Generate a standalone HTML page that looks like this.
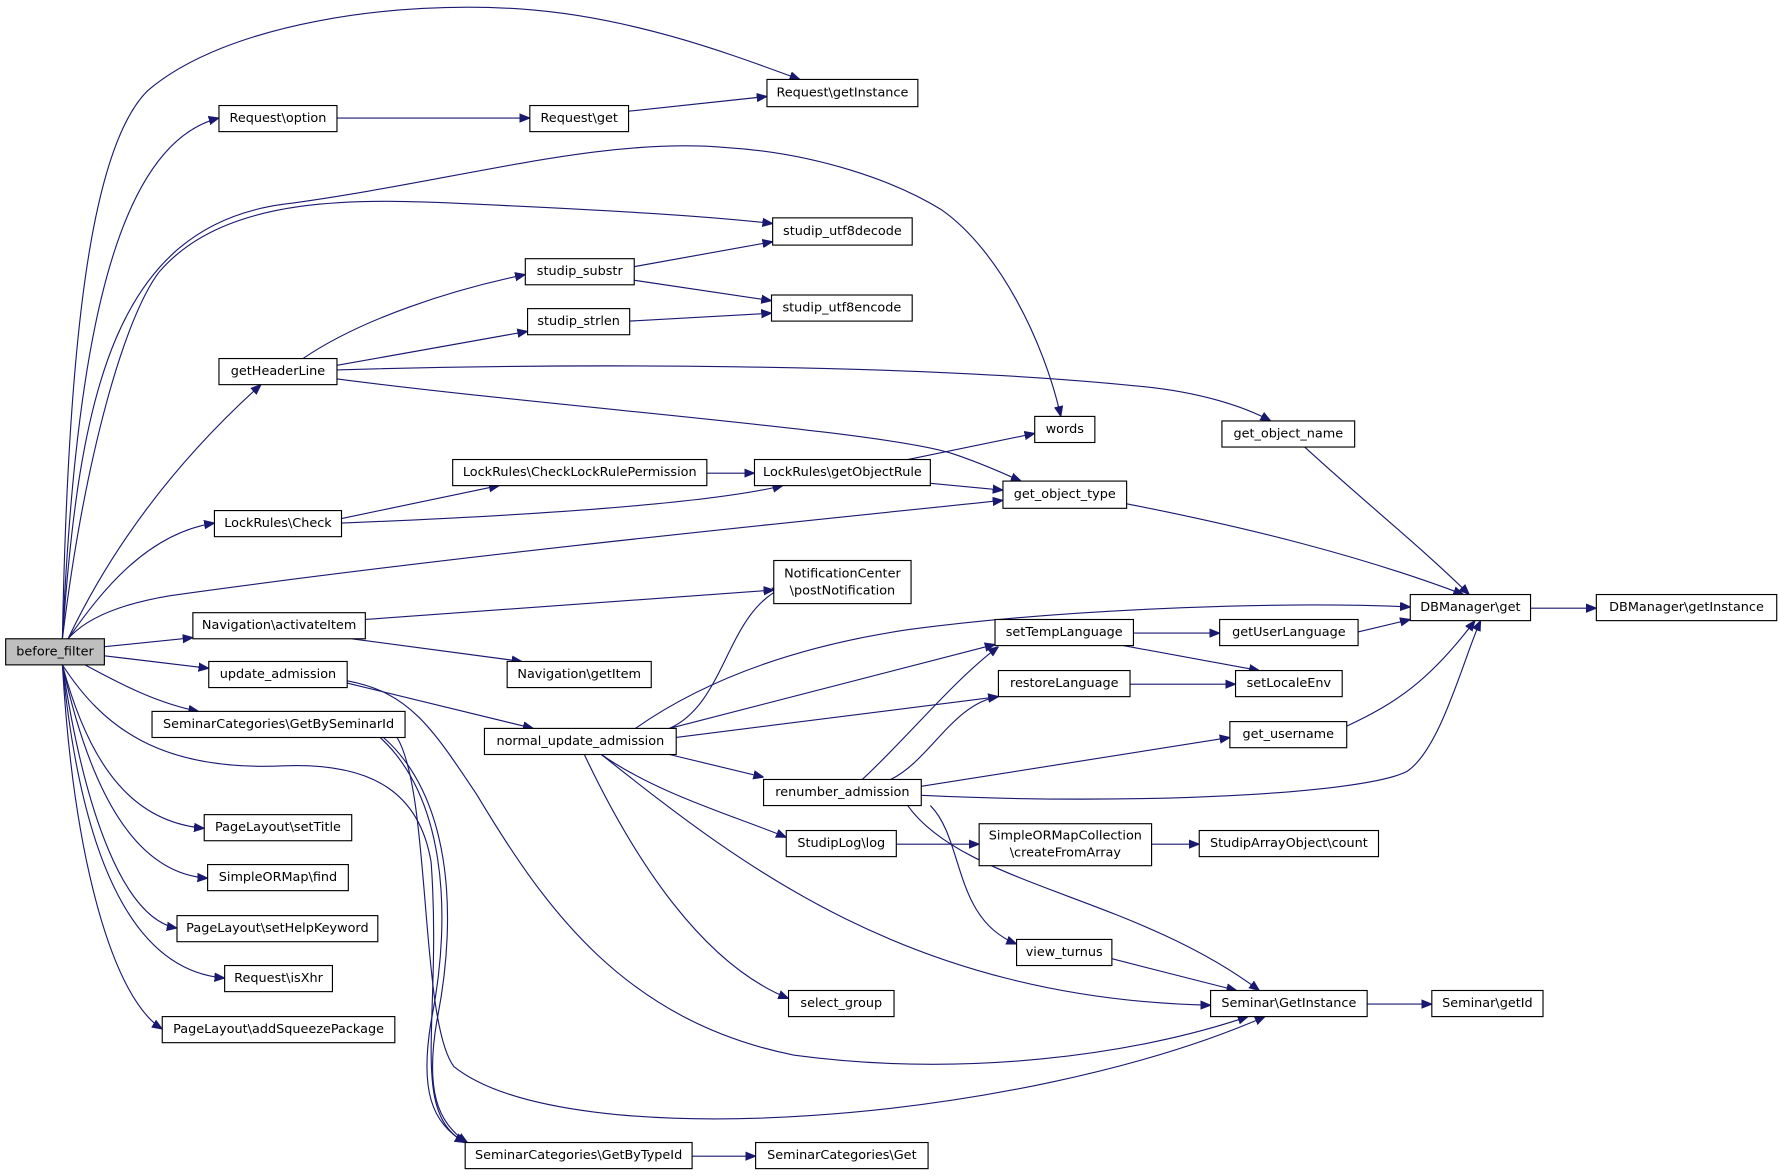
<!DOCTYPE html>
<html><head><meta charset="utf-8"><style>
html,body{margin:0;padding:0;background:#fff;}
svg{display:block}
text{font-family:"DejaVu Sans","Liberation Sans",sans-serif;font-size:11.3px;fill:#000;text-anchor:middle;dominant-baseline:central}
rect{fill:#fff;stroke:#000;stroke-width:1}
path{fill:none;stroke:#191970;stroke-width:1}
</style></head><body>
<svg width="1779" height="1175" viewBox="0 0 1568 1035.6" xmlns="http://www.w3.org/2000/svg">
<defs><marker id="a" viewBox="0 0 10 10" refX="10" refY="5" markerWidth="9" markerHeight="9" markerUnits="userSpaceOnUse" orient="auto"><path d="M0,1 L10,5 L0,9 z" style="fill:#191970;stroke:#191970"/></marker></defs>
<g marker-end="url(#a)">
<path d="M55,563 C60,300 80,130 130,80 C200,20 350,0 460,8 C560,15 650,50 705,70"/>
<path d="M55,563 C65,350 90,130 193,104"/>
<path d="M297,104 L467,104"/>
<path d="M554,98 L676,85"/>
<path d="M55,563 C70,350 100,200 250,180 C400,160 530,120 640,130 C720,135 790,160 830,185 C880,220 920,300 935,367"/>
<path d="M55,563 C75,400 110,280 140,240 C200,170 320,175 420,180 C530,185 620,190 681,197"/>
<path d="M267,316 C320,280 400,255 463,242"/>
<path d="M297,322 L465,292"/>
<path d="M559,235 L681,213"/>
<path d="M559,247 L680,265"/>
<path d="M555,283 L680,276"/>
<path d="M297,326 C500,320 800,320 1000,340 C1060,345 1100,360 1120,371"/>
<path d="M297,334 C500,360 780,380 840,400 C870,410 890,420 900,424"/>
<path d="M60,563 C90,500 140,420 230,339"/>
<path d="M60,563 C90,520 130,470 189,461"/>
<path d="M301,457 L440,428"/>
<path d="M301,461 C450,455 620,445 690,428"/>
<path d="M623,417 L665,417"/>
<path d="M800,405 L912,382"/>
<path d="M820,426 L884,432"/>
<path d="M60,563 C80,540 120,530 150,525 C400,490 700,460 884,441"/>
<path d="M993,444 C1100,465 1200,490 1290,524"/>
<path d="M1150,394 C1200,440 1250,480 1295,524"/>
<path d="M1197,557 L1243,546"/>
<path d="M1187,640 C1230,620 1260,600 1300,547"/>
<path d="M812,701 C1000,710 1200,700 1240,680 C1270,660 1290,580 1305,547"/>
<path d="M560,642 C620,600 700,570 800,555 C950,535 1150,530 1243,535"/>
<path d="M1349,536 L1407,536"/>
<path d="M322,546 L682,520"/>
<path d="M310,563 L460,583"/>
<path d="M92,570 L170,562"/>
<path d="M92,578 L184,589"/>
<path d="M75,586 C110,605 140,620 175,627"/>
<path d="M306,602 L470,642"/>
<path d="M590,642 C640,620 640,540 690,518"/>
<path d="M590,642 L877,568"/>
<path d="M596,650 L880,614"/>
<path d="M590,665 L673,685"/>
<path d="M530,665 C580,700 650,720 693,738"/>
<path d="M515,665 C560,760 620,850 695,880"/>
<path d="M530,665 C650,760 800,880 1067,886"/>
<path d="M306,600 C360,610 380,640 420,700 C480,800 550,900 700,930 C850,950 1000,930 1100,896"/>
<path d="M335,650 C390,700 400,800 380,900 C370,960 380,990 410,1007"/>
<path d="M338,650 C395,700 405,800 385,900 C375,960 385,990 412,1007"/>
<path d="M55,586 C90,640 140,680 250,675 C330,672 370,700 380,760 C390,900 360,980 410,1007"/>
<path d="M350,650 C380,700 370,900 400,940 C500,1020 900,990 1115,896"/>
<path d="M610,1019 L666,1019"/>
<path d="M999,558 L1075,558"/>
<path d="M990,569 L1110,591"/>
<path d="M996,603 L1089,603"/>
<path d="M760,687 C800,650 840,600 880,570"/>
<path d="M785,687 C820,670 840,620 880,614"/>
<path d="M812,693 L1084,650"/>
<path d="M800,710 C850,780 1000,790 1110,873"/>
<path d="M820,710 C850,740 840,810 896,832"/>
<path d="M790,744 L863,744"/>
<path d="M1015,744 L1057,744"/>
<path d="M980,845 L1090,873"/>
<path d="M1205,885 L1262,885"/>
<path d="M55,586 C80,680 120,725 180,730"/>
<path d="M55,586 C80,700 120,770 183,774"/>
<path d="M55,586 C75,720 110,810 156,818"/>
<path d="M55,586 C70,740 110,855 198,862"/>
<path d="M55,586 C65,760 100,880 143,907"/>
</g>
<rect x="5" y="563" width="87" height="23" style="fill:#bfbfbf"/><text x="48.5" y="574.5">before_filter</text>
<rect x="193" y="93" width="104" height="23"/><text x="245" y="104.5">Request\option</text>
<rect x="467" y="93" width="87" height="23"/><text x="510.5" y="104.5">Request\get</text>
<rect x="676" y="70" width="133" height="24"/><text x="742.5" y="82">Request\getInstance</text>
<rect x="681" y="192" width="123" height="24"/><text x="742.5" y="204">studip_utf8decode</text>
<rect x="463" y="228" width="96" height="23"/><text x="511" y="239.5">studip_substr</text>
<rect x="680" y="260" width="124" height="23"/><text x="742" y="271.5">studip_utf8encode</text>
<rect x="465" y="272" width="90" height="23"/><text x="510" y="283.5">studip_strlen</text>
<rect x="193" y="316" width="104" height="23"/><text x="245" y="327.5">getHeaderLine</text>
<rect x="912" y="367" width="53" height="23"/><text x="938.5" y="378.5">words</text>
<rect x="1077" y="371" width="117" height="23"/><text x="1135.5" y="382.5">get_object_name</text>
<rect x="399" y="405" width="224" height="23"/><text x="511" y="416.5">LockRules\CheckLockRulePermission</text>
<rect x="665" y="405" width="155" height="23"/><text x="742.5" y="416.5">LockRules\getObjectRule</text>
<rect x="884" y="424" width="109" height="24"/><text x="938.5" y="436">get_object_type</text>
<rect x="189" y="450" width="112" height="23"/><text x="245" y="461.5">LockRules\Check</text>
<rect x="682" y="494" width="121" height="38"/><text x="742.5" y="506">NotificationCenter</text><text x="742.5" y="521">\postNotification</text>
<rect x="1243" y="524" width="106" height="23"/><text x="1296" y="535.5">DBManager\get</text>
<rect x="1407" y="524" width="159" height="23"/><text x="1486.5" y="535.5">DBManager\getInstance</text>
<rect x="170" y="540" width="152" height="23"/><text x="246" y="551.5">Navigation\activateItem</text>
<rect x="877" y="546" width="122" height="23"/><text x="938" y="557.5">setTempLanguage</text>
<rect x="1075" y="546" width="122" height="23"/><text x="1136" y="557.5">getUserLanguage</text>
<rect x="184" y="583" width="122" height="23"/><text x="245" y="594.5">update_admission</text>
<rect x="447" y="583" width="127" height="23"/><text x="510.5" y="594.5">Navigation\getItem</text>
<rect x="880" y="591" width="116" height="23"/><text x="938" y="602.5">restoreLanguage</text>
<rect x="1089" y="591" width="94" height="23"/><text x="1136" y="602.5">setLocaleEnv</text>
<rect x="134" y="627" width="223" height="23"/><text x="245.5" y="638.5">SeminarCategories\GetBySeminarId</text>
<rect x="427" y="642" width="169" height="23"/><text x="511.5" y="653.5">normal_update_admission</text>
<rect x="1084" y="636" width="103" height="23"/><text x="1135.5" y="647.5">get_username</text>
<rect x="673" y="687" width="139" height="23"/><text x="742.5" y="698.5">renumber_admission</text>
<rect x="180" y="718" width="130" height="23"/><text x="245" y="729.5">PageLayout\setTitle</text>
<rect x="863" y="726" width="152" height="37"/><text x="939" y="737">SimpleORMapCollection</text><text x="939" y="752">\createFromArray</text>
<rect x="1057" y="732" width="158" height="23"/><text x="1136" y="743.5">StudipArrayObject\count</text>
<rect x="693" y="732" width="97" height="23"/><text x="741.5" y="743.5">StudipLog\log</text>
<rect x="183" y="762" width="124" height="23"/><text x="245" y="773.5">SimpleORMap\find</text>
<rect x="156" y="807" width="177" height="23"/><text x="244.5" y="818.5">PageLayout\setHelpKeyword</text>
<rect x="896" y="828" width="84" height="23"/><text x="938" y="839.5">view_turnus</text>
<rect x="198" y="851" width="95" height="23"/><text x="245.5" y="862.5">Request\isXhr</text>
<rect x="695" y="873" width="93" height="23"/><text x="741.5" y="884.5">select_group</text>
<rect x="1067" y="873" width="138" height="23"/><text x="1136" y="884.5">Seminar\GetInstance</text>
<rect x="1262" y="873" width="98" height="23"/><text x="1311" y="884.5">Seminar\getId</text>
<rect x="143" y="896" width="205" height="23"/><text x="245.5" y="907.5">PageLayout\addSqueezePackage</text>
<rect x="410" y="1007" width="200" height="23"/><text x="510" y="1018.5">SeminarCategories\GetByTypeId</text>
<rect x="666" y="1007" width="152" height="23"/><text x="742" y="1018.5">SeminarCategories\Get</text>
</svg>
</body></html>
